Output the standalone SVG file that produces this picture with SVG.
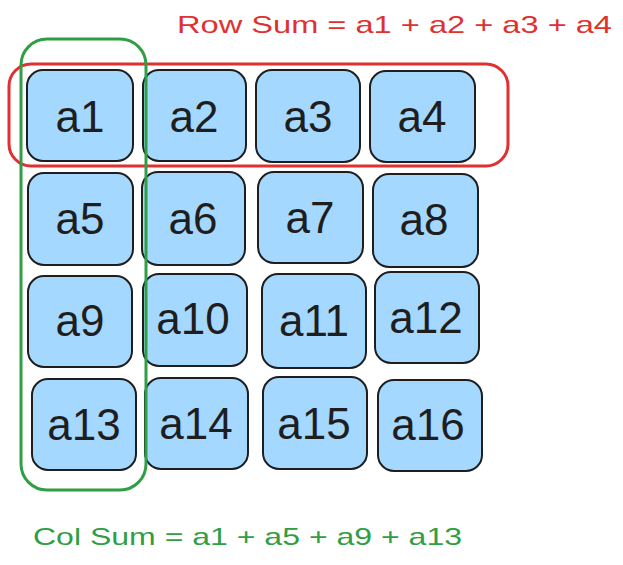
<svg xmlns="http://www.w3.org/2000/svg" width="623" height="565" viewBox="0 0 623 565">
<style>
.cell rect{fill:#a5d8ff;stroke:#1e1e1e;stroke-width:2}
.cell text{font-family:"Liberation Sans",Arial,sans-serif;font-size:44px;fill:#1e1e1e;text-anchor:middle;dominant-baseline:central}
.lbl{font-family:"Liberation Sans",Arial,sans-serif;font-size:24px}
</style>
<rect width="623" height="565" fill="#ffffff"/>
<g id="a1" class="cell"><rect x="27" y="70" width="106" height="91" rx="16"/><text x="80" y="116">a1</text></g>
<g id="a2" class="cell"><rect x="143" y="70" width="103" height="91" rx="16"/><text x="194" y="116">a2</text></g>
<g id="a3" class="cell"><rect x="256" y="70" width="104" height="92" rx="16"/><text x="308" y="116">a3</text></g>
<g id="a4" class="cell"><rect x="370" y="71" width="105" height="91" rx="16"/><text x="422" y="116">a4</text></g>
<g id="a5" class="cell"><rect x="28" y="173" width="105" height="92" rx="16"/><text x="80" y="218">a5</text></g>
<g id="a6" class="cell"><rect x="142" y="172" width="103" height="93" rx="16"/><text x="193" y="218">a6</text></g>
<g id="a7" class="cell"><rect x="258" y="172" width="105" height="91" rx="16"/><text x="310" y="217">a7</text></g>
<g id="a8" class="cell"><rect x="373" y="174" width="105" height="93" rx="16"/><text x="424" y="219">a8</text></g>
<g id="a9" class="cell"><rect x="28" y="276" width="104" height="91" rx="16"/><text x="80" y="320">a9</text></g>
<g id="a10" class="cell"><rect x="143" y="274" width="104" height="92" rx="16"/><text x="193" y="318">a10</text></g>
<g id="a11" class="cell"><rect x="262" y="274" width="104" height="94" rx="16"/><text x="314" y="320">a11</text></g>
<g id="a12" class="cell"><rect x="375" y="272" width="104" height="91" rx="16"/><text x="426" y="317">a12</text></g>
<g id="a13" class="cell"><rect x="32" y="379" width="104" height="91" rx="16"/><text x="84" y="424">a13</text></g>
<g id="a14" class="cell"><rect x="145" y="378" width="103" height="91" rx="16"/><text x="196" y="423">a14</text></g>
<g id="a15" class="cell"><rect x="263" y="377" width="104" height="92" rx="16"/><text x="314" y="423">a15</text></g>
<g id="a16" class="cell"><rect x="378" y="380" width="104" height="91" rx="16"/><text x="428" y="424">a16</text></g>
<g id="rowSum">
<rect x="9" y="64" width="499" height="102" rx="22" fill="none" stroke="#e03131" stroke-width="3"/>
<text class="lbl" x="177" y="33" fill="#e03131" textLength="435" lengthAdjust="spacingAndGlyphs">Row Sum = a1 + a2 + a3 + a4</text>
</g>
<g id="colSum">
<rect x="21" y="39" width="125" height="451" rx="26" fill="none" stroke="#2f9e44" stroke-width="3"/>
<text class="lbl" x="33" y="545" fill="#2f9e44" textLength="429" lengthAdjust="spacingAndGlyphs">Col Sum = a1 + a5 + a9 + a13</text>
</g>
</svg>
